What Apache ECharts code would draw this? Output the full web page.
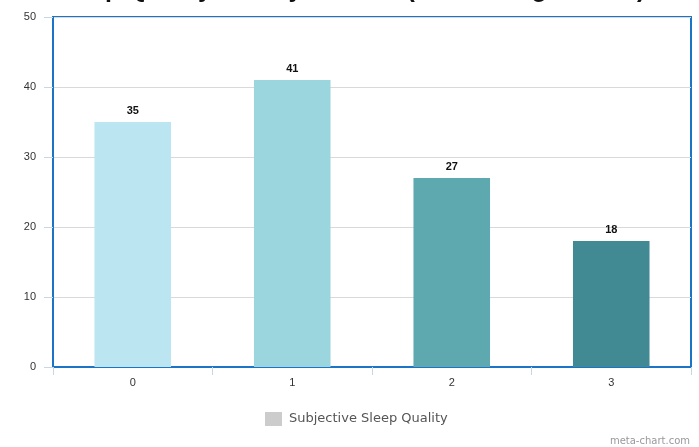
<!DOCTYPE html>
<html>
<head>
<meta charset="utf-8">
<title>Subjective Sleep Quality</title>
<script src="https://cdn.jsdelivr.net/npm/echarts@6/dist/echarts.min.js"></script>
<style>
  html, body { margin: 0; padding: 0; background: #fff; }
  #chart { width: 699px; height: 447px; }
</style>
</head>
<body>
<div id="chart"></div>
<script>
// Score categories and respondent counts
const categories = ['0', '1', '2', '3'];
const counts = [35, 41, 27, 18];
const barColors = ['#bce5f2', '#9bd5de', '#5ea9b0', '#428a93'];
const seriesName = 'Subjective Sleep Quality';
const titleText = 'Sleep Quality Survey Results (Self-Rating Scores)';

const chart = echarts.init(document.getElementById('chart'), null, { renderer: 'canvas' });

chart.setOption({
  animation: false,
  backgroundColor: '#ffffff',
  textStyle: { fontFamily: 'Liberation Sans, Arial, sans-serif' },
  grid: {
    left: 53, right: 8, top: 17, bottom: 80,
    show: true,
    borderColor: '#1b74c5',
    borderWidth: 2,
    backgroundColor: 'transparent'
  },
  legend: {
    bottom: 16,
    left: 260,
    icon: 'rect',
    itemWidth: 17,
    itemHeight: 14,
    textStyle: { color: '#555', fontSize: 13, padding: [0, 0, 0, 2], fontFamily: 'DejaVu Sans, sans-serif' },
    data: [{ name: seriesName, itemStyle: { color: '#cccccc' } }]
  },
  xAxis: {
    type: 'category',
    data: categories,
    axisLine: { show: true, lineStyle: { color: '#1b74c5', width: 2 } },
    axisTick: { show: true, length: 8, lineStyle: { color: '#c9d6e3' } },
    axisLabel: { color: '#333', fontSize: 11, margin: 10 }
  },
  yAxis: {
    type: 'value',
    min: 0, max: 50, interval: 10,
    axisLine: { show: true, lineStyle: { color: '#1b74c5', width: 2 } },
    axisTick: { show: true, length: 9, lineStyle: { color: '#c9d6e3' } },
    axisLabel: { color: '#333', fontSize: 11, margin: 17 },
    splitLine: { show: true, lineStyle: { color: '#d9d9d9', width: 1 } }
  },
  series: [{
    name: seriesName,
    type: 'bar',
    barWidth: '48%',
    itemStyle: { color: '#cccccc' },
    label: {
      show: true,
      position: 'top',
      distance: 6,
      color: '#111',
      fontWeight: 'bold',
      fontSize: 11
    },
    data: counts.map((v, i) => ({ value: v, itemStyle: { color: barColors[i] } }))
  }],
  graphic: [
    {
      type: 'text',
      left: 'center',
      top: -22,
      style: { text: titleText, font: 'bold 25px Liberation Sans, Arial, sans-serif', fill: '#111' },
      z: 10
    },
    {
      type: 'text',
      right: 9,
      bottom: 1,
      style: { text: 'meta-chart.com', font: '10px DejaVu Sans, sans-serif', fill: '#999' }
    }
  ]
});
</script>
</body>
</html>
